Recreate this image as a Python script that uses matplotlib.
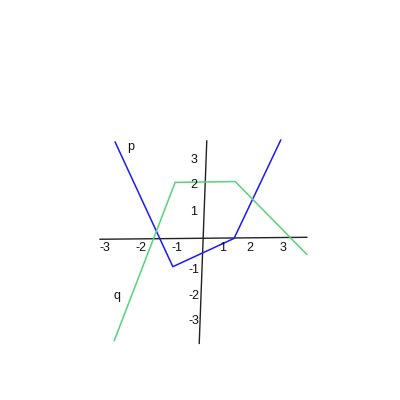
import matplotlib
matplotlib.use("Agg")
import matplotlib.pyplot as plt

# Series values (in chart units)
p_x = [-3.03, -1.04, 1.07, 2.68]
p_y = [3.39, -1.06, -0.05, 3.46]
q_x = [-3.06, -0.96, 1.11, 3.58]
q_y = [-3.70, 1.95, 1.98, -0.62]

# Hand-drawn axis lines (slightly tilted in the reference)
xaxis_x = [-3.55, 3.58]
xaxis_y = [-0.08, -0.01]
yaxis_x = [0.13, -0.13]
yaxis_y = [3.43, -3.80]

# Tick labels
x_tick_labels = ["-3", "-2", "-1", "1", "2", "3"]
y_tick_labels = ["3", "2", "1", "-1", "-2", "-3"]

# Label positions (layout)
x_label_pos = [-3.38, -2.15, -0.89, 0.68, 1.62, 2.75]
x_label_y = -0.40
y_label_pos = [2.75, 1.86, 0.90, -1.18, -2.10, -2.99]
y_label_x = -0.31

plt.rcParams['font.family'] = ['Liberation Sans', 'DejaVu Sans']

fig = plt.figure(figsize=(4, 4), dpi=100)
ax = fig.add_axes([0, 0, 1, 1])
ax.set_xlim(-7.0, 6.793)
ax.set_ylim(-5.821, 8.464)
ax.axis("off")

axis_color = "#222222"
ax.plot(xaxis_x, xaxis_y, color=axis_color, lw=1.0)
ax.plot(yaxis_x, yaxis_y, color=axis_color, lw=1.0)

ax.plot(p_x, p_y, color="#1a1aff", lw=1.1)
ax.plot(q_x, q_y, color="#55d47a", lw=1.1)

for lab, xp in zip(x_tick_labels, x_label_pos):
    ax.text(xp, x_label_y, lab, ha="center", va="center", fontsize=9, color="#111111")
for lab, yp in zip(y_tick_labels, y_label_pos):
    ax.text(y_label_x, yp, lab, ha="center", va="center", fontsize=9, color="#111111")

ax.text(-2.49, 3.23, "p", ha="center", va="center", fontsize=9, color="#111111")
ax.text(-2.96, -2.10, "q", ha="center", va="center", fontsize=9, color="#111111")

fig.savefig("out.png", dpi=100, facecolor="white")
